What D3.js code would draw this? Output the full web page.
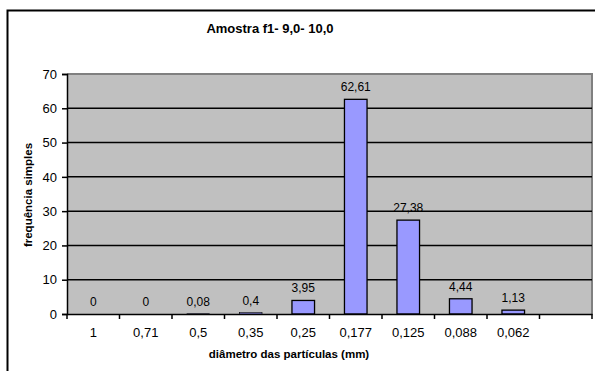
<!DOCTYPE html>
<html><head><meta charset="utf-8">
<script src="https://cdn.jsdelivr.net/npm/d3@7"></script>
<style>body{margin:0;background:#fff;} svg{display:block;font-family:"Liberation Sans",Arial,sans-serif;}</style>
</head><body>
<svg id="c" width="595" height="371"></svg>
<script>
const categories = ["1","0,71","0,5","0,35","0,25","0,177","0,125","0,088","0,062",""];
const values = [0,0,0.08,0.4,3.95,62.61,27.38,4.44,1.13,null];
const labels = ["0","0","0,08","0,4","3,95","62,61","27,38","4,44","1,13",""];
const yTicks = [0,10,20,30,40,50,60,70];
const title = "Amostra f1- 9,0- 10,0";
const xTitle = "diâmetro das partículas (mm)";
const yTitle = "frequência simples";

const svg = d3.select("#c");
const L=67, R=592, T=74, B=314;

// outer frame
svg.append("path").attr("d","M7.5,371 L7.5,10.5 L595,10.5").attr("fill","none").attr("stroke","#000").attr("stroke-width",2);

const x = d3.scaleBand().domain(d3.range(categories.length)).range([L,R]).paddingInner(0).paddingOuter(0);
const y = d3.scaleLinear().domain([0,70]).range([B,T]);

svg.append("rect").attr("x",L).attr("y",T).attr("width",R-L).attr("height",B-T).attr("fill","#C0C0C0");
svg.append("path").attr("d",`M${L},${T} L${R},${T} L${R},${B}`).attr("fill","none").attr("stroke","#808080").attr("stroke-width",2);

// gridlines
svg.append("g").selectAll("line").data(yTicks.filter(t=>t>0&&t<70)).join("line")
  .attr("x1",L).attr("x2",R).attr("y1",d=>y(d)).attr("y2",d=>y(d))
  .attr("stroke","#000").attr("stroke-width",1.5);

// bars
const bw = x.bandwidth()*0.43;
svg.append("g").selectAll("rect").data(values.map((v,i)=>({v,i})).filter(d=>d.v!==null && d.v>0)).join("rect")
  .attr("x",d=>x(d.i)+x.bandwidth()/2-bw/2).attr("width",bw)
  .attr("y",d=>y(d.v)).attr("height",d=>y(0)-y(d.v))
  .attr("fill","#9999FF").attr("stroke","#000").attr("stroke-width",d=>d.v<1?0.6:1.3);

// data labels
svg.append("g").selectAll("text").data(values.map((v,i)=>({v,i})).filter(d=>d.v!==null)).join("text")
  .attr("x",d=>x(d.i)+x.bandwidth()/2).attr("y",d=>y(d.v)-8)
  .attr("text-anchor","middle").attr("font-size",12).attr("fill","#000")
  .text(d=>labels[d.i]);

// y axis
const ya = svg.append("g").attr("transform",`translate(${L},0)`)
  .call(d3.axisLeft(y).tickValues(yTicks).tickSize(5).tickPadding(5).tickFormat(d3.format("d")));
ya.select(".domain").attr("stroke","#000").attr("stroke-width",1.5);
ya.selectAll(".tick line").attr("stroke","#000").attr("stroke-width",1.5);
ya.selectAll("text").attr("font-size",13).attr("font-family","Liberation Sans, Arial, sans-serif").attr("fill","#000");

// x axis
const xa = svg.append("g").attr("transform",`translate(0,${B})`)
  .call(d3.axisBottom(x).tickFormat(i=>categories[i]).tickSize(0).tickPadding(14));
xa.select(".domain").attr("stroke","#000").attr("stroke-width",1.5);
xa.selectAll("text").attr("font-size",13).attr("font-family","Liberation Sans, Arial, sans-serif").attr("fill","#000");
svg.append("g").selectAll("line").data(d3.range(categories.length+1)).join("line")
  .attr("x1",i=>L+i*x.step()).attr("x2",i=>L+i*x.step())
  .attr("y1",B).attr("y2",B+5).attr("stroke","#000").attr("stroke-width",1.5);

// titles
svg.append("text").attr("x",270).attr("y",33).attr("text-anchor","middle")
  .attr("font-size",13).attr("font-weight","bold").text(title);
svg.append("text").attr("x",289).attr("y",358).attr("text-anchor","middle")
  .attr("font-size",11.5).attr("font-weight","bold").text(xTitle);
svg.append("text").attr("transform","translate(32,195) rotate(-90)").attr("text-anchor","middle")
  .attr("font-size",11.5).attr("font-weight","bold").text(yTitle);
</script>
</body></html>
